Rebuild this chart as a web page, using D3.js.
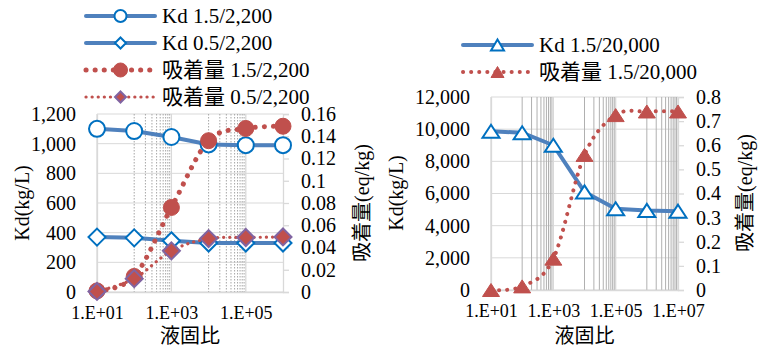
<!DOCTYPE html>
<html>
<head>
<meta charset="utf-8">
<script src="https://cdn.jsdelivr.net/npm/d3@7"></script>
<style>
    body { margin: 0; background: #fff; }
    svg { display: block; font-family: "Liberation Serif", "Noto Sans CJK JP", serif; }
</style>
</head>
<body>
<div id="chart"></div>
<script>
// --- Data ---
const xA = [1e1, 1e2, 1e3, 1e4, 1e5, 1e6];
const kd15A = [1100, 1085, 1045, 995, 990, 990];
const kd05A = [370, 365, 345, 330, 330, 330];
const ads15A = [0.001, 0.014, 0.076, 0.136, 0.147, 0.149];
const ads05A = [0.0005, 0.012, 0.037, 0.048, 0.049, 0.0495];

const xB = [1e1, 1e2, 1e3, 1e4, 1e5, 1e6, 1e7];
const kd15B = [9870, 9780, 9000, 6100, 5050, 4950, 4900];
const ads15B = [0, 0.015, 0.13, 0.56, 0.725, 0.74, 0.74];

const xTicksA = [1e1, 1e3, 1e5];
const xTicksB = [1e1, 1e3, 1e5, 1e7];
const kdTicksA = [0, 200, 400, 600, 800, 1000, 1200];
const adsTicksA = [0, 0.02, 0.04, 0.06, 0.08, 0.1, 0.12, 0.14, 0.16];
const kdTicksB = [0, 2000, 4000, 6000, 8000, 10000, 12000];
const adsTicksB = [0, 0.1, 0.2, 0.3, 0.4, 0.5, 0.6, 0.7, 0.8];

const legendA = ["Kd 1.5/2,200", "Kd 0.5/2,200", "吸着量 1.5/2,200", "吸着量 0.5/2,200"];
const legendB = ["Kd 1.5/20,000", "吸着量 1.5/20,000"];

// --- Styles ---
const BLUE = "#4F81BD", MARK_BLUE = "#0070C0", RED = "#C0504D", PURPLE = "#8064A2";
const width = 765, height = 349;

const svg = d3.select("#chart").append("svg")
    .attr("width", width)
    .attr("height", height);

const fmtExp = d => "1.E+" + String(Math.round(Math.log10(d))).padStart(2, "0");

// minor gridlines: base-100 log axis, 9 lines in every second decade
function minorLines(domain) {
    const out = [];
    for (let m = domain[0]; m < domain[1]; m *= 100) {
        for (let j = 1; j <= 9; j++) {
            const v = m * 10 * j;
            if (v < domain[1]) out.push(v);
        }
    }
    return out;
}

function triangle(w, h) {
    return `M0,${-h / 2}L${w / 2},${h / 2}L${-w / 2},${h / 2}Z`;
}
function diamond(r) {
    return `M0,${-r}L${r},0L0,${r}L${-r},0Z`;
}

function drawPanel(cfg) {
    const x = d3.scaleLog().domain(cfg.xDomain).range([cfg.left, cfg.right]);
    const yL = d3.scaleLinear().domain([0, cfg.kdMax]).range([cfg.bottom, cfg.top]);
    const yR = d3.scaleLinear().domain([0, cfg.adsMax]).range([cfg.bottom, cfg.top]);
    const g = svg.append("g");

    // horizontal gridlines
    g.selectAll(".hg").data(cfg.kdTicks).enter().append("line")
        .attr("x1", cfg.left).attr("x2", cfg.right)
        .attr("y1", d => yL(d)).attr("y2", d => yL(d))
        .attr("stroke", "#D9D9D9").attr("stroke-width", 1);

    // minor vertical gridlines
    g.selectAll(".mg").data(minorLines(cfg.xDomain)).enter().append("line")
        .attr("x1", d => x(d)).attr("x2", d => x(d))
        .attr("y1", cfg.top).attr("y2", cfg.bottom)
        .attr("stroke", cfg.minorColor)
        .attr("stroke-width", 1)
        .attr("stroke-dasharray", cfg.minorDash);

    // major vertical gridlines
    g.selectAll(".vg").data(cfg.xTicks).enter().append("line")
        .attr("x1", d => x(d)).attr("x2", d => x(d))
        .attr("y1", cfg.top).attr("y2", cfg.bottom)
        .attr("stroke", "#D9D9D9").attr("stroke-width", 1.3);

    // axes
    const axL = g.append("g").attr("transform", `translate(${cfg.left},0)`)
        .call(d3.axisLeft(yL).tickValues(cfg.kdTicks).tickFormat(d3.format(",")).tickSize(0).tickPadding(21));
    const axR = g.append("g").attr("transform", `translate(${cfg.right},0)`)
        .call(d3.axisRight(yR).tickValues(cfg.adsTicks).tickFormat(d => String(d)).tickSize(6).tickPadding(12));
    const axB = g.append("g").attr("transform", `translate(0,${cfg.bottom})`)
        .call(d3.axisBottom(x).tickValues(cfg.xTicks).tickFormat(fmtExp).tickSize(0).tickPadding(14));
    [axL, axR, axB].forEach(a => {
        a.select(".domain").attr("stroke", "#D9D9D9").attr("stroke-width", 1.3);
        a.selectAll(".tick line").attr("stroke", "#D9D9D9").attr("stroke-width", 1.3);
        a.selectAll("text").attr("fill", "#000").style("font-family", "Liberation Serif");
    });
    axL.selectAll("text").style("font-size", "20px");
    axR.selectAll("text").style("font-size", "20px");
    axB.selectAll("text").style("font-size", "18px");

    // axis titles
    g.append("text")
        .attr("transform", `translate(${cfg.kdTitleX},${cfg.titleY}) rotate(-90)`)
        .attr("text-anchor", "middle").attr("dy", "0.35em")
        .style("font-size", "20px").text("Kd(kg/L)");
    g.append("text")
        .attr("transform", `translate(${cfg.adsTitleX},${cfg.titleY}) rotate(-90)`)
        .attr("text-anchor", "middle").attr("dy", "0.35em")
        .style("font-size", "20px").text("吸着量(eq/kg)");
    g.append("text")
        .attr("x", (cfg.left + cfg.right) / 2).attr("y", 336)
        .attr("text-anchor", "middle").attr("dy", "0.35em")
        .style("font-size", "20px").text("液固比");

    return { g, x, yL, yR };
}

function drawSeries(p, xs, ys, yScale, s) {
    const line = d3.line()
        .x((d, i) => p.x(xs[i]))
        .y(d => yScale(d))
        .curve(s.smooth ? d3.curveCatmullRom.alpha(0) : d3.curveLinear);
    p.g.append("path").datum(ys)
        .attr("d", line)
        .attr("fill", "none")
        .attr("stroke", s.stroke)
        .attr("stroke-width", s.width)
        .attr("stroke-linecap", "round")
        .attr("stroke-dasharray", s.dash || null);
    p.g.selectAll(null).data(ys).enter().append("path")
        .attr("transform", (d, i) => `translate(${p.x(xs[i])},${yScale(d)})`)
        .attr("d", s.marker)
        .attr("fill", s.fill)
        .attr("stroke", s.mStroke)
        .attr("stroke-width", s.mWidth);
}

const circle = r => d3.symbol(d3.symbolCircle, Math.PI * r * r)();

const styleKd15A = { stroke: BLUE, width: 4, marker: circle(8), fill: "#fff", mStroke: MARK_BLUE, mWidth: 2 };
const styleKd05A = { stroke: BLUE, width: 4, marker: diamond(8.5), fill: "#fff", mStroke: MARK_BLUE, mWidth: 2 };
const styleAds15A = { stroke: RED, width: 5, dash: "0.1 9", smooth: true, marker: circle(8), fill: RED, mStroke: RED, mWidth: 1 };
const styleAds05A = { stroke: RED, width: 3.2, dash: "0.1 6", smooth: true, marker: diamond(8.5), fill: RED, mStroke: PURPLE, mWidth: 2 };
const styleKd15B = { stroke: BLUE, width: 4, marker: triangle(17, 13), fill: "#fff", mStroke: MARK_BLUE, mWidth: 2 };
const styleAds15B = { stroke: RED, width: 4, dash: "0.1 8", smooth: true, marker: triangle(17, 13), fill: RED, mStroke: RED, mWidth: 1 };

// --- Left panel ---
const pA = drawPanel({
    xDomain: [1e1, 1e6], left: 97, right: 283, top: 114, bottom: 292,
    kdMax: 1200, adsMax: 0.16, kdTicks: kdTicksA, adsTicks: adsTicksA, xTicks: xTicksA,
    minorColor: "#A6A6A6", minorDash: "1.5 1.5",
    kdTitleX: 22, adsTitleX: 362, titleY: 203
});
drawSeries(pA, xA, kd15A, pA.yL, styleKd15A);
drawSeries(pA, xA, kd05A, pA.yL, styleKd05A);
drawSeries(pA, xA, ads15A, pA.yR, styleAds15A);
drawSeries(pA, xA, ads05A, pA.yR, styleAds05A);

// --- Right panel ---
const pB = drawPanel({
    xDomain: [1e1, 1e7], left: 491, right: 678, top: 97, bottom: 290,
    kdMax: 12000, adsMax: 0.8, kdTicks: kdTicksB, adsTicks: adsTicksB, xTicks: xTicksB,
    minorColor: "#B0B0B0", minorDash: null,
    kdTitleX: 396, adsTitleX: 745, titleY: 193
});
drawSeries(pB, xB, kd15B, pB.yL, styleKd15B);
drawSeries(pB, xB, ads15B, pB.yR, styleAds15B);

// --- Legends ---
function drawLegend(labels, styles, x0, y0, dy) {
    const lg = svg.append("g");
    labels.forEach((label, i) => {
        const s = styles[i];
        const y = y0 + i * dy;
        lg.append("line")
            .attr("x1", x0).attr("x2", x0 + 69).attr("y1", y).attr("y2", y)
            .attr("stroke", s.stroke).attr("stroke-width", s.width)
            .attr("stroke-linecap", "round")
            .attr("stroke-dasharray", s.dash || null);
        lg.append("path")
            .attr("transform", `translate(${x0 + 34.5},${y})`)
            .attr("d", s.legendMarker || s.marker)
            .attr("fill", s.fill).attr("stroke", s.mStroke).attr("stroke-width", s.mWidth);
        lg.append("text")
            .attr("x", x0 + 76).attr("y", y).attr("dy", "0.35em")
            .style("font-size", "21px").text(label);
    });
}

drawLegend(legendA, [
    Object.assign({}, styleKd15A, { legendMarker: circle(6) }),
    Object.assign({}, styleKd05A, { legendMarker: diamond(5.5) }),
    Object.assign({}, styleAds15A, { legendMarker: circle(7) }),
    Object.assign({}, styleAds05A, { legendMarker: diamond(5.5) })
], 86, 16, 27);
drawLegend(legendB, [
    Object.assign({}, styleKd15B, { legendMarker: triangle(13, 11) }),
    Object.assign({}, styleAds15B, { legendMarker: triangle(13, 11) })
], 463, 45, 27);
</script>
</body>
</html>
